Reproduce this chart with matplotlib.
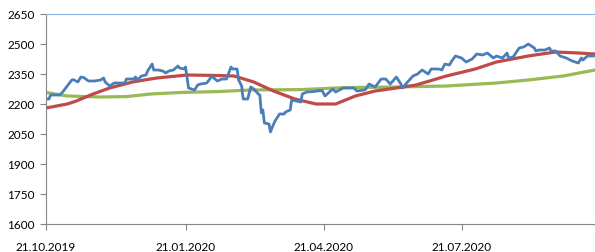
import matplotlib.pyplot as plt
import matplotlib.dates as mdates
import pandas as pd

# daily close (blue)
price_dates = [
    "2019-10-21", "2019-10-23", "2019-10-24", "2019-10-30", "2019-11-01", "2019-11-04",
    "2019-11-07", "2019-11-08", "2019-11-11", "2019-11-13", "2019-11-15", "2019-11-18",
    "2019-11-22", "2019-11-26", "2019-11-28", "2019-11-29", "2019-12-02", "2019-12-05",
    "2019-12-09", "2019-12-12", "2019-12-13", "2019-12-18", "2019-12-19", "2019-12-20",
    "2019-12-23", "2019-12-26", "2019-12-27", "2019-12-30", "2019-12-31", "2020-01-03",
    "2020-01-06", "2020-01-08", "2020-01-10", "2020-01-13", "2020-01-16", "2020-01-17",
    "2020-01-20", "2020-01-21", "2020-01-23", "2020-01-27", "2020-01-29", "2020-01-31",
    "2020-02-04", "2020-02-06", "2020-02-07", "2020-02-11", "2020-02-14", "2020-02-17",
    "2020-02-20", "2020-02-21", "2020-02-24", "2020-02-25", "2020-02-27", "2020-02-28",
    "2020-03-02", "2020-03-04", "2020-03-06", "2020-03-09", "2020-03-10", "2020-03-11",
    "2020-03-12", "2020-03-13", "2020-03-16", "2020-03-17", "2020-03-18", "2020-03-20",
    "2020-03-23", "2020-03-26", "2020-03-27", "2020-03-30", "2020-03-31", "2020-04-03",
    "2020-04-06", "2020-04-07", "2020-04-10", "2020-04-14", "2020-04-17", "2020-04-20",
    "2020-04-22", "2020-04-27", "2020-04-29", "2020-05-04", "2020-05-11", "2020-05-13",
    "2020-05-18", "2020-05-19", "2020-05-21", "2020-05-25", "2020-05-29", "2020-06-01",
    "2020-06-04", "2020-06-08", "2020-06-11", "2020-06-12", "2020-06-16", "2020-06-19",
    "2020-06-22", "2020-06-25", "2020-06-29", "2020-07-01", "2020-07-06", "2020-07-08",
    "2020-07-10", "2020-07-13", "2020-07-15", "2020-07-17", "2020-07-21", "2020-07-24",
    "2020-07-28", "2020-07-31", "2020-08-04", "2020-08-07", "2020-08-11", "2020-08-13",
    "2020-08-17", "2020-08-20", "2020-08-21", "2020-08-24", "2020-08-28", "2020-08-31",
    "2020-09-03", "2020-09-07", "2020-09-08", "2020-09-10", "2020-09-14", "2020-09-17",
    "2020-09-18", "2020-09-21", "2020-09-24", "2020-09-28", "2020-10-02", "2020-10-06",
    "2020-10-08", "2020-10-09", "2020-10-12", "2020-10-16",
]
price = [
    2225, 2225, 2245, 2245, 2260, 2290,
    2320, 2322, 2310, 2335, 2332, 2315,
    2315, 2320, 2330, 2310, 2290, 2305,
    2305, 2305, 2325, 2325, 2335, 2320,
    2340, 2345, 2365, 2400, 2370, 2370,
    2365, 2355, 2365, 2370, 2390, 2380,
    2375, 2385, 2280, 2270, 2295, 2300,
    2305, 2325, 2340, 2315, 2325, 2325,
    2385, 2375, 2375, 2320, 2290, 2225,
    2225, 2285, 2275, 2250, 2245, 2155,
    2170, 2105, 2100, 2060, 2080, 2115,
    2150, 2150, 2160, 2170, 2220, 2215,
    2210, 2250, 2260, 2262, 2265, 2268,
    2240, 2275, 2260, 2280, 2280, 2265,
    2270, 2275, 2300, 2285, 2325, 2325,
    2300, 2335, 2300, 2280, 2315, 2340,
    2350, 2370, 2350, 2375, 2375, 2370,
    2400, 2395, 2420, 2440, 2430, 2410,
    2425, 2450, 2445, 2455, 2430, 2440,
    2430, 2455, 2430, 2435, 2480, 2485,
    2500, 2480, 2465, 2470, 2470, 2480,
    2465, 2465, 2440, 2430, 2415, 2405,
    2430, 2420, 2440, 2440,
]

# short moving average (red)
ma_short_dates = [
    "2019-10-21", "2019-11-04", "2019-11-10", "2019-11-21", "2019-12-02", "2019-12-17",
    "2020-01-02", "2020-01-22", "2020-02-08", "2020-02-22", "2020-03-06", "2020-03-19",
    "2020-04-02", "2020-04-16", "2020-04-29", "2020-05-12", "2020-05-25", "2020-06-08",
    "2020-06-21", "2020-07-11", "2020-07-30", "2020-08-13", "2020-09-03", "2020-09-21",
    "2020-10-06", "2020-10-17",
]
ma_short = [
    2180, 2200, 2215, 2250, 2280, 2310,
    2330, 2345, 2343, 2340, 2310, 2265,
    2225, 2200, 2200, 2240, 2265, 2280,
    2295, 2340, 2375, 2410, 2440, 2460,
    2455, 2450,
]

# long moving average (green)
ma_long_dates = [
    "2019-10-21", "2019-11-04", "2019-11-26", "2019-12-13", "2019-12-29", "2020-01-19",
    "2020-02-11", "2020-03-04", "2020-04-06", "2020-05-05", "2020-06-08", "2020-07-11",
    "2020-08-13", "2020-09-03", "2020-09-26", "2020-10-17",
]
ma_long = [
    2258, 2240, 2235, 2237, 2250, 2258,
    2262, 2270, 2272, 2282, 2285, 2290,
    2305, 2320, 2340, 2370,
]

tick_dates = ["2019-10-21", "2020-01-21", "2020-04-21", "2020-07-21"]

plt.rcParams['font.family'] = ['Lato', 'DejaVu Sans']

fig = plt.figure(figsize=(5.95, 2.53), dpi=100)
ax = fig.add_axes([46 / 595, 1 - 225 / 253, 549 / 595, 210 / 253])

ax.plot(pd.to_datetime(ma_long_dates), ma_long, color='#98B954', lw=2.3)
ax.plot(pd.to_datetime(ma_short_dates), ma_short, color='#BE4B48', lw=2.3)
ax.plot(pd.to_datetime(price_dates), price, color='#4A7EBB', lw=2.0)

ax.set_xlim(pd.Timestamp("2019-10-21"), pd.Timestamp("2020-10-17"))
ax.set_ylim(1600, 2650)
ax.set_yticks(range(1600, 2651, 150))
ax.set_xticks(pd.to_datetime(tick_dates))
ax.xaxis.set_major_formatter(mdates.DateFormatter('%d.%m.%Y'))

ax.spines['right'].set_visible(False)
ax.spines['top'].set_color('#8DB3E2')
ax.spines['left'].set_color('#868686')
ax.spines['bottom'].set_color('#868686')
ax.tick_params(axis='both', colors='#868686', labelcolor='black', labelsize=8.5, length=4)
ax.tick_params(axis='x', pad=8)
ax.tick_params(axis='y', pad=4)

fig.savefig('out.png', dpi=100)
